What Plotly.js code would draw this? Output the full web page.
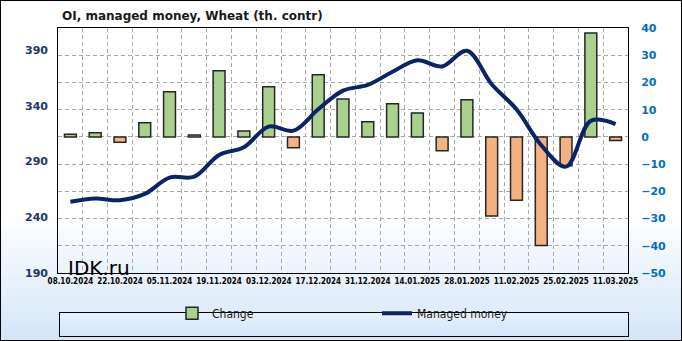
<!DOCTYPE html>
<html>
<head>
<meta charset="utf-8">
<script src="https://cdn.plot.ly/plotly-3.0.1.min.js"></script>
<style>
  html, body { margin: 0; padding: 0; }
  #wrap {
    position: relative; width: 682px; height: 341px; box-sizing: border-box;
    border: 1px solid #000;
    background: linear-gradient(180deg, #ffffff 0%, #ffffff 62%, #d4e5f7 100%);
  }
  #legbox {
    position: absolute; left: 58px; top: 311px; width: 570px; height: 25px; z-index: 0;
    box-sizing: border-box; border: 1px solid #000;
    background: linear-gradient(180deg, #e6f0fb 0%, #d6e6f7 100%);
  }
  #chart { position: absolute; left: 0; top: 0; width: 680px; height: 339px; z-index: 1; }
  #brand {
    position: absolute; left: 67px; top: 255px; z-index: 2;
    font: 20px "DejaVu Sans", sans-serif; line-height: 24px; color: #000;
  }
</style>
</head>
<body>
<div id="wrap">
  <div id="legbox"></div>
  <div id="chart"></div>
  <div id="brand">IDK.ru</div>
</div>
<script>
// ---- data ----
const dates = ["08.10.2024","15.10.2024","22.10.2024","29.10.2024","05.11.2024","12.11.2024",
  "19.11.2024","26.11.2024","03.12.2024","10.12.2024","17.12.2024","24.12.2024","31.12.2024",
  "07.01.2025","14.01.2025","21.01.2025","28.01.2025","04.02.2025","11.02.2025","18.02.2025",
  "25.02.2025","04.03.2025","11.03.2025"];
const change = [1, 1.5, -2, 5.2, 16.6, 0.7, 24.3, 2.2, 18.4, -4, 22.8, 13.9, 5.6, 12.2, 8.8,
  -5.1, 13.6, -29.1, -23.3, -39.9, -10.6, 38.2, -1.3];
const managedMoney = [254, 256.9, 255.4, 261, 275.7, 276.5, 296, 303, 321.5, 317.8, 337, 353.8,
  358.9, 370.7, 381, 375.5, 389.5, 359.5, 337, 304.7, 285.5, 326.6, 323.7];
const tickLabels = dates.map((d, i) => (i % 2 === 0 ? d : ""));
const leftTicks = [190, 240, 290, 340, 390];

const barColors = change.map(v => (v >= 0 ? "#a9d08e" : "#f4b183"));

const traces = [
  {
    type: "bar", name: "Change", x: dates, y: change, yaxis: "y",
    width: 0.48,
    marker: { color: barColors, line: { color: "#262626", width: 1.5 } }
  },
  {
    type: "scatter", mode: "lines", name: "Managed money", x: dates, y: managedMoney,
    yaxis: "y2",
    line: { color: "#0b2466", width: 4, shape: "spline", smoothing: 1 }
  }
];

const gridStyle = { showgrid: true, gridcolor: "#a8a8a8", griddash: "4px,3px", gridwidth: 1 };

const layout = {
  width: 680, height: 339,
  margin: { l: 57, r: 53, t: 27, b: 50 },
  paper_bgcolor: "rgba(0,0,0,0)",
  plot_bgcolor: "rgba(0,0,0,0)",
  showlegend: true,
  title: {
    text: "OI, managed money, Wheat (th. contr)",
    font: { family: "DejaVu Sans", size: 12, color: "#1a1a1a", weight: "bold" },
    x: 61 / 680, xanchor: "left", xref: "container",
    y: 1 - 15 / 339, yanchor: "middle", yref: "container"
  },
  xaxis: Object.assign({
    type: "category",
    tickmode: "array", tickvals: dates, ticktext: tickLabels,
    tickson: "boundaries",
    ticks: "",
    showline: true, linecolor: "#000", linewidth: 1, mirror: true,
    tickangle: 0,
    tickfont: { family: "DejaVu Sans Condensed", size: 8, color: "#000", weight: "bold" },
    range: [-0.5, 22.5]
  }, gridStyle),
  yaxis: Object.assign({
    side: "right",
    range: [-50, 40],
    tickmode: "linear", tick0: -50, dtick: 10,
    zeroline: false,
    showline: true, linecolor: "#000", linewidth: 1, mirror: true,
    ticks: "",
    ticklabelstandoff: 10,
    tickfont: { family: "DejaVu Sans", size: 11, color: "#0070c0", weight: "bold" }
  }, gridStyle),
  yaxis2: {
    overlaying: "y", side: "left", anchor: "x",
    range: [190, 410],
    tickmode: "array", tickvals: leftTicks,
    showgrid: false, zeroline: false,
    showline: false,
    ticks: "",
    ticklabelstandoff: 9,
    tickfont: { family: "DejaVu Sans", size: 11, color: "#1f3864", weight: "bold" }
  },
  legend: {
    orientation: "h",
    x: 0.2, xanchor: "left",
    y: -0.164, yanchor: "middle",
    entrywidth: 160, entrywidthmode: "pixels",
    bgcolor: "rgba(0,0,0,0)",
    font: { family: "DejaVu Sans Condensed", size: 12, color: "#1a1a1a" }
  }
};

Plotly.newPlot("chart", traces, layout, { displayModeBar: false }).then(() => {
  // force a layout pass so every grid path is painted
  document.querySelectorAll("#chart .gridlayer path").forEach(p => {
    p.getBoundingClientRect();
    p.style.shapeRendering = "crispEdges";
  });
});
</script>
</body>
</html>
